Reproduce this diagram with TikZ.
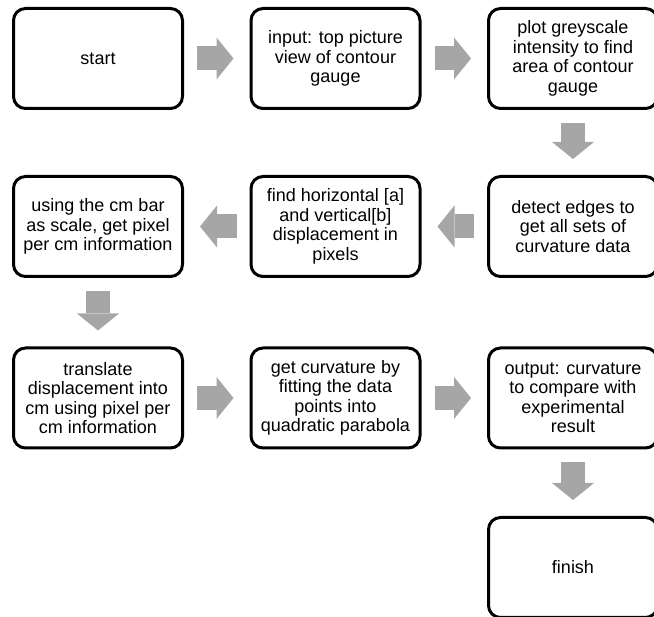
\documentclass[tikz,border=0pt]{standalone}
\usepackage{fontspec}
\setmainfont{Liberation Sans}
\usetikzlibrary{arrows.meta}
\tikzset{
    stepbox/.style={draw, line width=3pt, rounded corners=12pt,
        minimum width=169pt, minimum height=100pt, align=center,
        font=\fontsize{18}{19.5}\selectfont},
    blockarrow/.style={draw=gray!70, line width=24pt,
        -{Triangle[length=17pt, width=42pt, line width=0pt]},
        shorten <=13pt, shorten >=16pt}
}
\begin{document}
\begin{tikzpicture}[x=1pt, y=-1pt]
        \useasboundingbox (0, 0) rectangle (654, 617);
        % first row
        \node [stepbox] (start) at (98, 58.5) {start};
        \node [stepbox] (input) at (335.5, 58.5) {input: top picture\\view of contour\\gauge};
        \node [stepbox] (plot) at (573, 58.5) {plot greyscale\\intensity to find\\area of contour\\gauge};
        % second row
        \node [stepbox] (detect) at (573, 226.5) {detect edges to\\get all sets of\\curvature data};
        \node [stepbox] (find) at (335.5, 226.5) {find horizontal [a]\\and vertical[b]\\displacement in\\pixels};
        \node [stepbox] (using) at (98, 226.5) {using the cm bar\\as scale, get pixel\\per cm information};
        % third row
        \node [stepbox] (translate) at (98, 398) {translate\\displacement into\\cm using pixel per\\cm information};
        \node [stepbox] (fit) at (335.5, 398) {get curvature by\\fitting the data\\points into\\quadratic parabola};
        \node [stepbox] (output) at (573, 398) {output: curvature\\to compare with\\experimental\\result};
        % last one
        \node [stepbox] (finish) at (573, 567.5) {finish};
        \draw [blockarrow] (start) -- (input);
        \draw [blockarrow] (input) -- (plot);
        \draw [blockarrow] (plot) -- (detect);
        \draw [blockarrow] (detect) -- (find);
        \draw [blockarrow] (find) -- (using);
        \draw [blockarrow] (using) -- (translate);
        \draw [blockarrow] (translate) -- (fit);
        \draw [blockarrow] (fit) -- (output);
        \draw [blockarrow] (output) -- (finish);
    \end{tikzpicture}
\end{document}
